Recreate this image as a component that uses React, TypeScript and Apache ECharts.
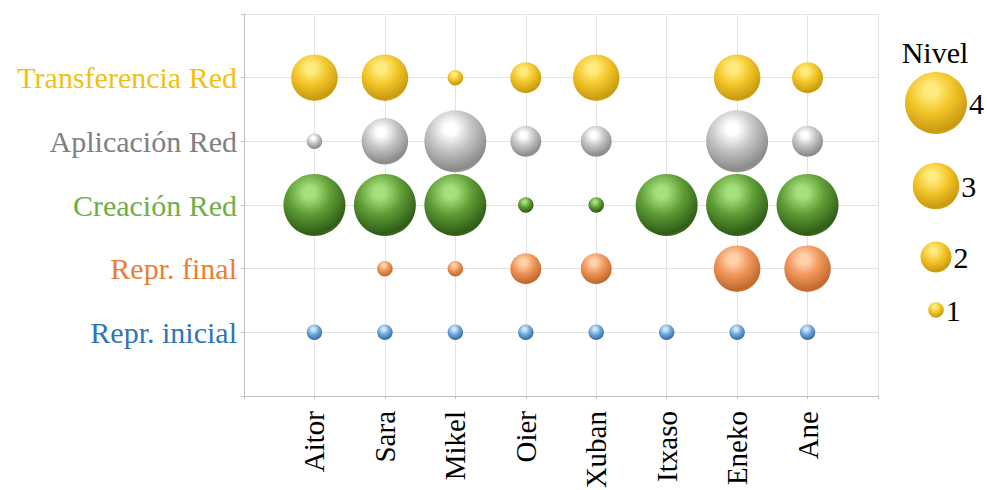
import React, { useEffect, useRef } from "react";
import * as echarts from "echarts";

const students = ["Aitor", "Sara", "Mikel", "Oier", "Xuban", "Itxaso", "Eneko", "Ane"];
const rowNames = ["Repr. inicial", "Repr. final", "Creación Red", "Aplicación Red", "Transferencia Red"];
const rowColors = ["#2E75B6", "#ED7D31", "#70AD47", "#808080", "#F2C012"];

const reprInicial = [1, 1, 1, 1, 1, 1, 1, 1];
const reprFinal = [null, 1, 1, 2, 2, null, 3, 3];
const creacion = [4, 4, 4, 1, 1, 4, 4, 4];
const aplicacion = [1, 3, 4, 2, 2, null, 4, 2];
const transferencia = [3, 3, 1, 2, 3, null, 3, 2];

const legendLevels = [4, 3, 2, 1];

const sphereColors = [
  { hi: "#cfe6fa", mid: "#6fa8dc", dark: "#3b6fa3", rim: "#5b8fc5" },
  { hi: "#ffd2ac", mid: "#f0965a", dark: "#c0682e", rim: "#e88f55" },
  { hi: "#a6e07a", mid: "#5f9e36", dark: "#2f5c17", rim: "#4f8a2a" },
  { hi: "#ffffff", mid: "#c4c4c4", dark: "#8a8a8a", rim: "#b0b0b0" },
  { hi: "#ffec80", mid: "#f3c62a", dark: "#c99a10", rim: "#e8bb22" },
];

const SIZE = 15.5;

function grad(c: { hi: string; mid: string; dark: string; rim: string }) {
  return new echarts.graphic.RadialGradient(0.42, 0.3, 0.78, [
    { offset: 0, color: c.hi },
    { offset: 0.12, color: c.hi },
    { offset: 0.45, color: c.mid },
    { offset: 0.85, color: c.dark },
    { offset: 1, color: c.rim },
  ]);
}

export default function App() {
  const ref = useRef<HTMLDivElement>(null);
  useEffect(() => {
    if (!ref.current) return;
    const chart = echarts.init(ref.current, undefined, { renderer: "svg" });
    const rows = [reprInicial, reprFinal, creacion, aplicacion, transferencia];
    const series = rows.map((vals, r) => ({
      type: "scatter",
      name: rowNames[r],
      data: vals
        .map((v, i) => (v == null ? null : [i + 1, r + 1, v]))
        .filter((d) => d !== null),
      symbolSize: (d: number[]) => SIZE * d[2],
      itemStyle: { color: grad(sphereColors[r]), opacity: 1 },
      emphasis: { disabled: true },
    }));
    const graphic: any[] = [
      {
        type: "text",
        x: 935,
        y: 52,
        style: {
          text: "Nivel",
          fontFamily: "Liberation Serif",
          fontSize: 30,
          fill: "#000",
          align: "center",
          verticalAlign: "middle",
        },
      },
    ];
    const ys = [103, 186, 257, 310];
    legendLevels.forEach((lv, i) => {
      const r = (SIZE * lv) / 2;
      graphic.push({
        type: "circle",
        shape: { cx: 936, cy: ys[i], r },
        style: { fill: grad(sphereColors[4]) },
      });
      graphic.push({
        type: "text",
        x: 936 + r + 2,
        y: ys[i],
        style: {
          text: String(lv),
          fontFamily: "Liberation Serif",
          fontSize: 30,
          fill: "#000",
          verticalAlign: "middle",
          align: "left",
        },
      });
    });
    chart.setOption({
      animation: false,
      grid: {
        left: 244,
        right: 109,
        top: 14,
        bottom: 94,
        containLabel: false,
        outerBoundsMode: "none",
      },
      xAxis: {
        type: "value",
        min: 0,
        max: 9,
        interval: 1,
        axisLine: { show: true, lineStyle: { color: "#bfbfbf", width: 1 } },
        axisTick: { show: true, length: 3, lineStyle: { color: "#bfbfbf" } },
        splitLine: { show: true, lineStyle: { color: "#e3e3e3" } },
        axisLabel: {
          rotate: 90,
          margin: 15,
          fontFamily: "Liberation Serif",
          fontSize: 29,
          color: "#000",
          formatter: (v: number) => (v >= 1 && v <= 8 ? students[v - 1] : ""),
        },
      },
      yAxis: {
        type: "value",
        min: 0,
        max: 6,
        interval: 1,
        axisLine: { show: true, lineStyle: { color: "#bfbfbf", width: 1 } },
        axisTick: { show: true, length: 3, lineStyle: { color: "#bfbfbf" } },
        splitLine: { show: true, lineStyle: { color: "#e3e3e3" } },
        axisLabel: {
          margin: 7,
          fontFamily: "Liberation Serif",
          fontSize: 30,
          color: (v: any) => {
            const n = Number(v);
            return n >= 1 && n <= 5 ? rowColors[n - 1] : "#000";
          },
          formatter: (v: number) => (v >= 1 && v <= 5 ? rowNames[v - 1] : ""),
        },
      },
      series,
      graphic,
    });
    return () => chart.dispose();
  }, []);
  return (
    <div
      ref={ref}
      style={{ position: "absolute", left: 0, top: 0, width: 987, height: 490, background: "#fff" }}
    />
  );
}
